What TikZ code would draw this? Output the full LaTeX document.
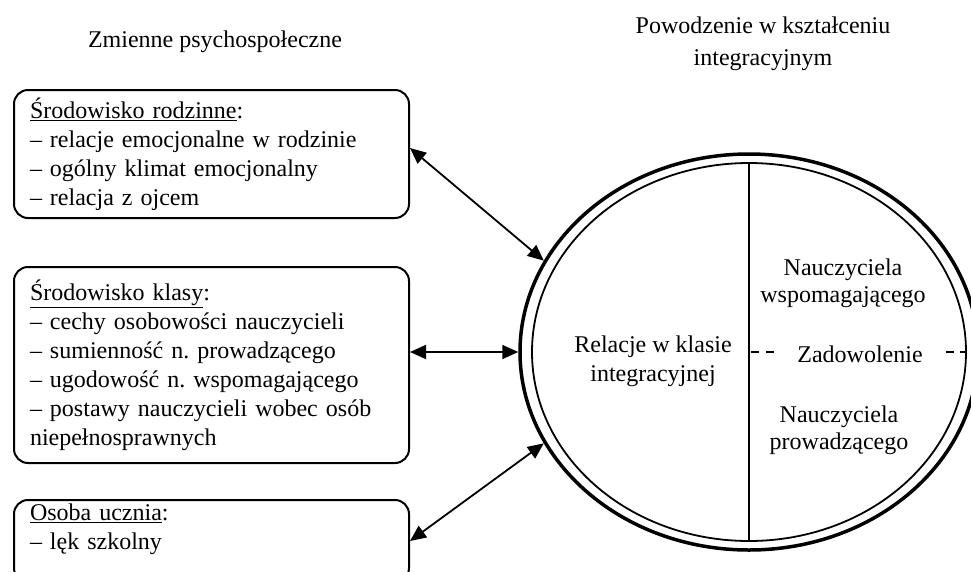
\documentclass[tikz,border=0pt]{standalone}
\usepackage{fontspec}
\setmainfont{Liberation Serif}
\usetikzlibrary{shapes.geometric,arrows.meta}
\frenchspacing
\begin{document}
\begin{tikzpicture}[x=1pt,y=-1pt,
  font=\fontsize{24}{29}\selectfont,
  box/.style={draw, line width=2pt, rounded corners=14pt, anchor=north west,
    text width=363pt, inner xsep=16pt, inner ysep=0pt, align=left, minimum width=395pt},
  arr/.style={line width=1.8pt, {Triangle[length=16pt,width=14pt]}-{Triangle[length=16pt,width=14pt]}},
  lbl/.style={inner sep=0pt, align=center},
  ring/.style={draw, ellipse, inner sep=0pt}]
\useasboundingbox (0,0) rectangle (971,571);
\clip (0,0) rectangle (971,571);

% titles
\node[lbl, anchor=base] (t1) at (215,47) {Zmienne psychospołeczne};
\node[lbl, anchor=north, font=\fontsize{24}{32}\selectfont] (t2) at (763,17) {Powodzenie w kształceniu\\integracyjnym};

% left boxes
\node[box, minimum height=128pt] (b1) at (13,89)
  {\underline{Środowisko rodzinne}:\\– relacje emocjonalne w rodzinie\\– ogólny klimat emocjonalny\\– relacja z ojcem};
\node[box, minimum height=196pt] (b2) at (13,266)
  {\underline{Środowisko klasy}:\\– cechy osobowości nauczycieli\\– sumienność n. prowadzącego\\– ugodowość n. wspomagającego\\– postawy nauczycieli wobec osób\\niepełnosprawnych};
\node[box, minimum height=82pt] (b3) at (13,499)
  {\underline{Osoba ucznia}:\\– lęk szkolny\\\mbox{}};

% double ellipse
\node[ring, line width=3.5pt, minimum width=458pt, minimum height=396pt] (outer) at (749,352) {};
\node[ring, line width=1.8pt, minimum width=434pt, minimum height=378pt] (inner) at (749,352) {};
\draw[line width=1.8pt] (inner.north) -- (inner.south);

% labels inside
\node[lbl, anchor=north] (rel) at (653,336) {Relacje w klasie\\integracyjnej};
\node[lbl, anchor=north, font=\fontsize{24}{27}\selectfont] (nw) at (843,259) {Nauczyciela\\wspomagającego};
\node[lbl, anchor=north, font=\fontsize{24}{27}\selectfont] (np) at (839,406) {Nauczyciela\\prowadzącego};
\node[lbl, inner xsep=23pt, anchor=base] (zad) at (860,362) {Zadowolenie};
\draw[line width=1.5pt, dash pattern=on 8pt off 7pt, dash phase=-2pt] (inner.north |- inner.east) -- (zad.west |- inner.east);
\draw[line width=1.5pt, dash pattern=on 8pt off 6pt] (zad.east |- inner.east) -- (inner.east);

% arrows
\draw[arr] ([yshift=6pt]b1.east) -- (outer.156);
\draw[arr] (b2.east |- outer.west) -- (outer.west);
\draw[arr] (b3.east) -- (outer.204);
\end{tikzpicture}
\end{document}
